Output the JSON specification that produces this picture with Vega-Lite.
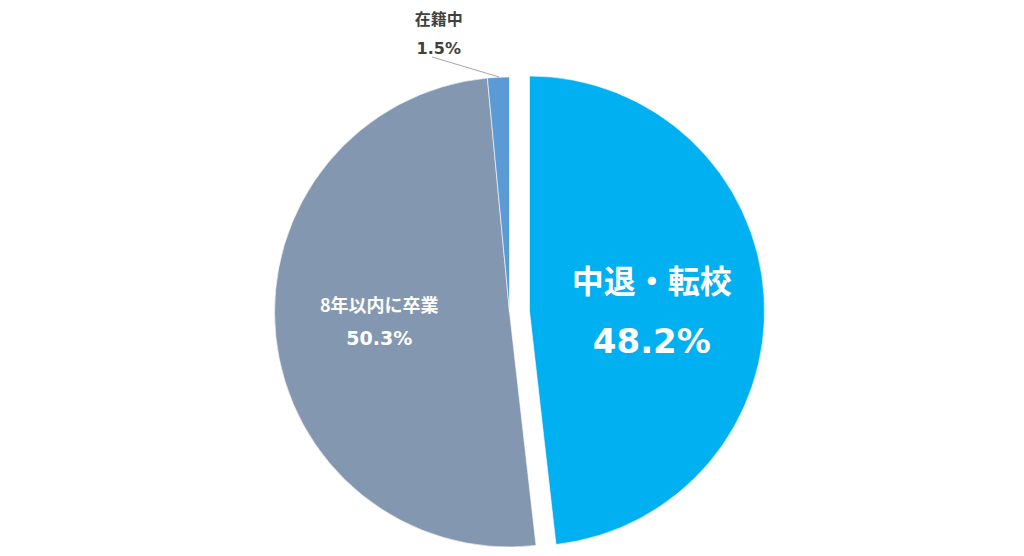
{
  "$schema": "https://vega.github.io/schema/vega-lite/v6.json",
  "width": 1019,
  "height": 488,
  "autosize": "none",
  "padding": {"left": 0, "top": 68, "right": 5, "bottom": 0},
  "background": "white",
  "config": {"view": {"stroke": null}, "font": "Noto Sans CJK JP"},
  "datasets": {
    "pie": [
      {"name": "中退・転校", "pct": 48.2, "o": 1, "label": "48.2%"},
      {"name": "8年以内に卒業", "pct": 50.3, "o": 2, "label": "50.3%"},
      {"name": "在籍中", "pct": 1.5, "o": 3, "label": "1.5%"}
    ],
    "leader": [
      {"px": -0.045, "py": 1.0, "k": 1},
      {"px": -0.33, "py": 1.085, "k": 2}
    ]
  },
  "data": {"name": "pie"},
  "encoding": {
    "theta": {"field": "pct", "type": "quantitative", "stack": true},
    "order": {"field": "o", "type": "quantitative"}
  },
  "layer": [
    {
      "mark": {"type": "arc", "outerRadius": 235, "stroke": "white", "strokeWidth": 0.6},
      "encoding": {
        "color": {"field": "name", "type": "nominal", "legend": null,
          "scale": {"domain": ["中退・転校", "8年以内に卒業", "在籍中"], "range": ["#00B0F0", "#8497B0", "#5B9BD5"]}},
        "opacity": {"condition": {"test": "datum.name === '中退・転校'", "value": 0}, "value": 1}
      }
    },
    {
      "mark": {"type": "arc", "outerRadius": 235, "xOffset": 20, "yOffset": -1, "stroke": "white", "strokeWidth": 0.6},
      "encoding": {
        "color": {"field": "name", "type": "nominal", "legend": null},
        "opacity": {"condition": {"test": "datum.name === '中退・転校'", "value": 1}, "value": 0}
      }
    },
    {
      "mark": {"type": "text", "radius": 122.5, "xOffset": 20, "yOffset": -1, "dy": -21, "fontSize": 32, "fontWeight": "bold", "fill": "white", "align": "center", "baseline": "middle"},
      "encoding": {"text": {"condition": {"test": "datum.name === '中退・転校'", "field": "name"}, "value": ""}}
    },
    {
      "mark": {"type": "text", "radius": 122.5, "xOffset": 20, "yOffset": -1, "dy": 39, "font": "DejaVu Sans", "fontSize": 34, "fontWeight": "bold", "fill": "white", "align": "center", "baseline": "middle"},
      "encoding": {"text": {"condition": {"test": "datum.name === '中退・転校'", "field": "label"}, "value": ""}}
    },
    {
      "mark": {"type": "text", "radius": 131, "dy": -18.6, "fontSize": 18, "fontWeight": "bold", "fill": "white", "align": "center", "baseline": "middle"},
      "encoding": {"text": {"condition": {"test": "datum.name === '8年以内に卒業'", "field": "name"}, "value": ""}}
    },
    {
      "mark": {"type": "text", "radius": 131, "dy": 13.4, "font": "DejaVu Sans", "fontSize": 19, "fontWeight": "bold", "fill": "white", "align": "center", "baseline": "middle"},
      "encoding": {"text": {"condition": {"test": "datum.name === '8年以内に卒業'", "field": "label"}, "value": ""}}
    },
    {
      "mark": {"type": "text", "radius": 280, "dx": -57.5, "dy": -12, "fontSize": 16, "fontWeight": "bold", "fill": "#404040", "align": "center", "baseline": "middle"},
      "encoding": {"text": {"condition": {"test": "datum.name === '在籍中'", "field": "name"}, "value": ""}}
    },
    {
      "mark": {"type": "text", "radius": 280, "dx": -57.5, "dy": 17, "font": "DejaVu Sans", "fontSize": 16, "fontWeight": "bold", "fill": "#404040", "align": "center", "baseline": "middle"},
      "encoding": {"text": {"condition": {"test": "datum.name === '在籍中'", "field": "label"}, "value": ""}}
    },
    {
      "data": {"name": "leader"},
      "mark": {"type": "line", "stroke": "#A6A6A6", "strokeWidth": 1, "clip": false},
      "encoding": {
        "theta": null,
        "order": {"field": "k", "type": "quantitative"},
        "x": {"field": "px", "type": "quantitative", "axis": null, "scale": {"domain": [-2.168, 2.168], "zero": false, "nice": false}},
        "y": {"field": "py", "type": "quantitative", "axis": null, "scale": {"domain": [-1.038, 1.038], "zero": false, "nice": false}}
      }
    }
  ]
}
